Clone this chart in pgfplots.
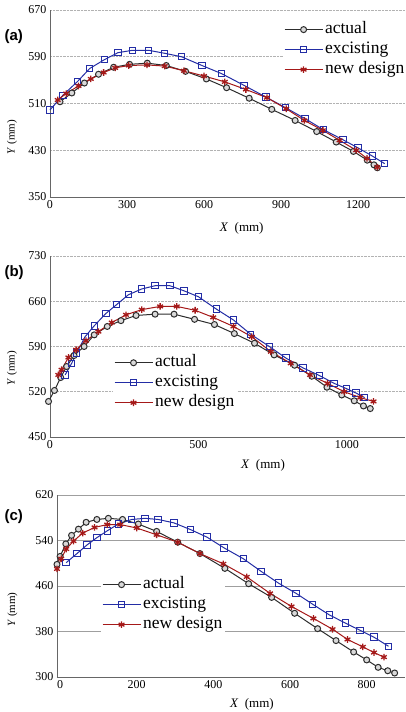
\documentclass[border=0pt]{standalone}
\usepackage{fontspec}
\setmainfont{Liberation Serif}
\newfontfamily\labfont{Liberation Sans}
\usepackage{pgfplots}
\pgfplotsset{compat=1.18}

\definecolor{actc}{RGB}{45,45,45}
\definecolor{excc}{RGB}{35,45,165}
\definecolor{newc}{RGB}{165,25,25}

\pgfplotsset{
  panel/.style={
    scale only axis, width=355pt,
    axis lines*=left, axis line style={gray!80!black, line width=0.6pt},
    tick style={draw=none},
    ymajorgrids, grid style={densely dotted, gray!60, line width=0.7pt},
    clip=false,
    tick label style={font=\fontsize{12}{12}\selectfont},
    /pgf/number format/assume math mode=true,
    /pgf/number format/1000 sep={},
    xlabel={\textit{X}\ \ (mm)},
    ylabel={\textit{Y} (mm)},
    xlabel style={font=\fontsize{13}{13}\selectfont, anchor=center},
    ylabel style={font=\fontsize{11}{11}\selectfont, anchor=center},
    legend cell align=left,
    legend style={draw=none, fill=white, inner sep=1pt,
      font=\fontsize{17.5}{17.5}\selectfont,
      nodes={inner sep=2pt, text height=12pt, text depth=4pt}},
    legend image code/.code={\draw[mark repeat=2,mark phase=2,#1]
      plot coordinates {(0pt,0pt)(19pt,0pt)(38pt,0pt)};},
  },
  act/.style={color=actc, line width=1pt, mark=*, mark size=3pt,
    mark options={fill=gray!30, draw=actc, line width=1pt}},
  exc/.style={color=excc, line width=1pt, mark=square, mark size=3.2pt,
    mark options={fill=white, line width=1pt}},
  nwd/.style={color=newc, line width=1pt, mark=asterisk, mark size=3.3pt,
    mark options={line width=1.3pt}},
}

\begin{document}
\begin{tikzpicture}
\path[use as bounding box] (0,0) rectangle (406pt,712pt);

% ---- (a)
\begin{axis}[panel, at={(50pt,515pt)}, anchor=south west, height=187pt,
  xmin=0, xmax=1383, ymin=350, ymax=670,
  xtick={0,300,600,900,1200}, ytick={350,430,510,590,670},
  xlabel style={at={(axis description cs:0.54,0)}, yshift=-31pt},
  ylabel style={at={(axis description cs:-0.107,0.32)}},
  legend style={at={(axis description cs:0.656,0.955)}, anchor=north west},
]
\addplot[act] coordinates {(39,513) (85,528) (134,545) (189,560) (248,572) (310,577) (379,579) (453,575) (528,565) (609,552) (688,537) (776,519) (864,500) (955,481) (1039,462) (1115,444) (1182,428) (1236,413) (1262,405) (1275,400)};
\addlegendentry{actual}
\addplot[exc] coordinates {(0,499) (50,524) (108,548) (155,570) (212,585) (265,597) (321,601) (384,601) (446,596) (512,590) (592,575) (669,561) (756,541) (841,521) (917,503) (994,484) (1066,465) (1141,448) (1200,434) (1256,420) (1304,407)};
\addlegendentry{excisting}
\addplot[nwd] coordinates {(30,516) (63,527) (111,540) (159,552) (209,563) (254,571) (307,575) (378,576) (447,574) (522,566) (600,557) (681,547) (763,534) (845,520) (920,501) (991,481) (1063,464) (1128,447) (1193,430) (1235,416) (1275,401)};
\addlegendentry{new design}
\end{axis}

% ---- (b)
\begin{axis}[panel, at={(50pt,275pt)}, anchor=south west, height=181pt,
  xmin=0, xmax=1196, ymin=450, ymax=730,
  xtick={0,500,1000}, ytick={450,520,590,660,730},
  xlabel style={at={(axis description cs:0.6,0)}, yshift=-28pt},
  ylabel style={at={(axis description cs:-0.107,0.38)}},
  legend style={at={(axis description cs:0.177,0.472)}, anchor=north west},
]
\addplot[act] coordinates {(-5,505) (15,522) (36,542) (56,559) (81,576) (115,590) (149,608) (193,621) (239,630) (290,638) (354,640) (418,640) (487,632) (554,624) (621,610) (689,595) (755,577) (824,561) (882,544) (933,527) (983,515) (1025,506) (1056,498) (1079,494)};
\addlegendentry{actual}
\addplot[exc] coordinates {(51,546) (73,564) (90,580) (118,605) (149,622) (188,641) (225,655) (264,670) (309,679) (354,684) (404,684) (452,676) (500,667) (560,648) (618,631) (676,609) (739,590) (795,572) (852,557) (908,545) (957,533) (998,525) (1031,518) (1060,511)};
\addlegendentry{excisting}
\addplot[nwd] coordinates {(28,546) (39,554) (62,573) (88,585) (121,599) (163,613) (208,627) (256,639) (309,647) (371,652) (427,652) (489,646) (550,635) (618,621) (680,605) (744,582) (811,564) (876,546) (935,533) (991,520) (1045,511) (1090,505)};
\addlegendentry{new design}
\end{axis}

% ---- (c)
\begin{axis}[panel, at={(57pt,35pt)}, anchor=south west, height=182pt,
  width=348pt,
  xmin=-8, xmax=900, ymin=300, ymax=620,
  xtick={0,200,400,600,800}, ytick={300,380,460,540,620},
  grid style={solid, gray!75, line width=0.9pt},
  xlabel style={at={(axis description cs:0.56,0)}, yshift=-27pt},
  ylabel style={at={(axis description cs:-0.128,0.37)}},
  legend style={at={(axis description cs:0.126,0.569)}, anchor=north west},
]
\addplot[act] coordinates {(-8,498) (0,512) (15,534) (30,549) (48,560) (68,572) (96,577) (126,579) (163,577) (204,569) (252,556) (307,537) (365,517) (430,491) (492,464) (552,440) (612,412) (672,385) (720,364) (766,344) (800,330) (830,317) (855,311) (873,307)};
\addlegendentry{actual}
\addplot[exc] coordinates {(16,501) (44,517) (70,532) (96,545) (123,557) (152,569) (187,577) (222,579) (256,577) (297,571) (341,559) (383,546) (428,527) (478,508) (524,486) (570,465) (616,447) (659,428) (703,409) (744,395) (783,382) (819,370) (857,354)};
\addlegendentry{excisting}
\addplot[nwd] coordinates {(-8,490) (3,508) (16,525) (35,539) (59,553) (90,563) (123,568) (157,568) (200,562) (252,550) (307,537) (365,517) (426,499) (487,476) (548,447) (604,424) (661,403) (711,384) (750,366) (790,353) (819,343) (845,335)};
\addlegendentry{new design}
\end{axis}

\node[font=\labfont\bfseries\fontsize{15}{15}\selectfont, anchor=west] at (1pt,675pt) {(a)};
\node[font=\labfont\bfseries\fontsize{15}{15}\selectfont, anchor=west] at (1pt,439pt) {(b)};
\node[font=\labfont\bfseries\fontsize{15}{15}\selectfont, anchor=west] at (1pt,195pt) {(c)};
\end{tikzpicture}
\end{document}
